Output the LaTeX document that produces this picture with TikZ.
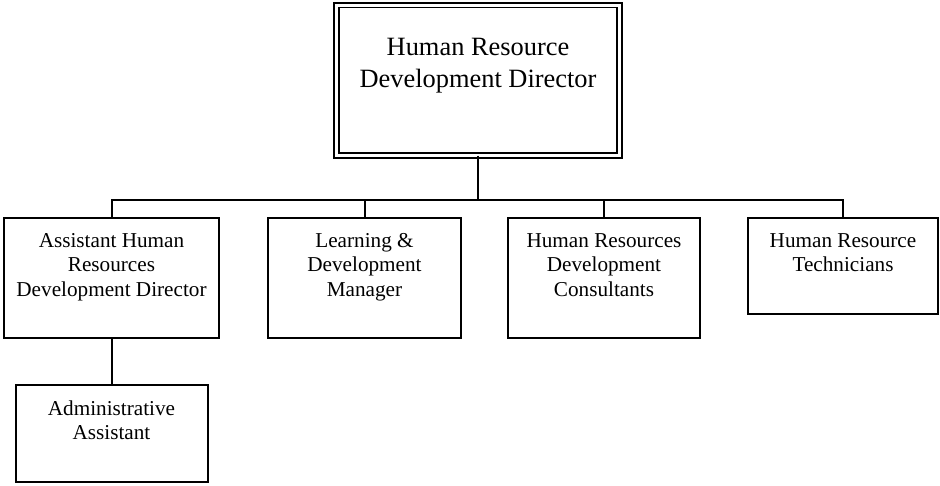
\documentclass[tikz,border=0pt]{standalone}
\usepackage{fontspec}
\setmainfont{Liberation Serif}
\usetikzlibrary{positioning}

\begin{document}
\begin{tikzpicture}[
  x=1pt, y=-1pt,
  font=\fontsize{21.2pt}{24.5pt}\selectfont,
  unit/.style={draw=black, line width=2pt, inner sep=0pt, outer sep=0pt,
    align=center, anchor=north west, text depth=42pt},
  head/.style={draw=black, line width=1.6pt, double, double distance=3pt,
    inner sep=0pt, outer sep=0pt, align=center, anchor=north,
    font=\fontsize{26.4pt}{32pt}\selectfont},
  link/.style={line width=2pt}
]
\useasboundingbox (0,0) rectangle (940,485);

\node[head, minimum width=283pt, text height=82pt, text depth=68.5pt] (hrdd) at (478,5)
  {Human Resource\\Development Director};

% second row
\node[unit, minimum width=215pt, text height=78pt] (ahrdd) at (4,218)
  {Assistant Human\\Resources\\Development Director};
\node[unit, minimum width=193pt, text height=78pt, right=49pt of ahrdd.north east, anchor=north west] (ldm)
  {Learning \&\\Development\\Manager};
\node[unit, minimum width=192pt, text height=78pt, right=47pt of ldm.north east, anchor=north west] (hrdc)
  {Human Resources\\Development\\Consultants};
\node[unit, minimum width=190pt, text height=53.5pt, right=48pt of hrdc.north east, anchor=north west] (hrt)
  {Human Resource\\Technicians};

% under the assistant director
\node[unit, minimum width=192pt, text height=54.5pt, below=47pt of ahrdd] (aa)
  {Administrative\\Assistant};

\coordinate (bus) at (478,200);
\draw[link] (hrdd.south) -- (bus);
\draw[link] (ahrdd.north) |- (bus) -| (hrt.north);
\draw[link] (ldm.north) -- (ldm.north |- bus);
\draw[link] (hrdc.north) -- (hrdc.north |- bus);
\draw[link] (ahrdd.south) -- (ahrdd.south |- aa.north);
\end{tikzpicture}
\end{document}
